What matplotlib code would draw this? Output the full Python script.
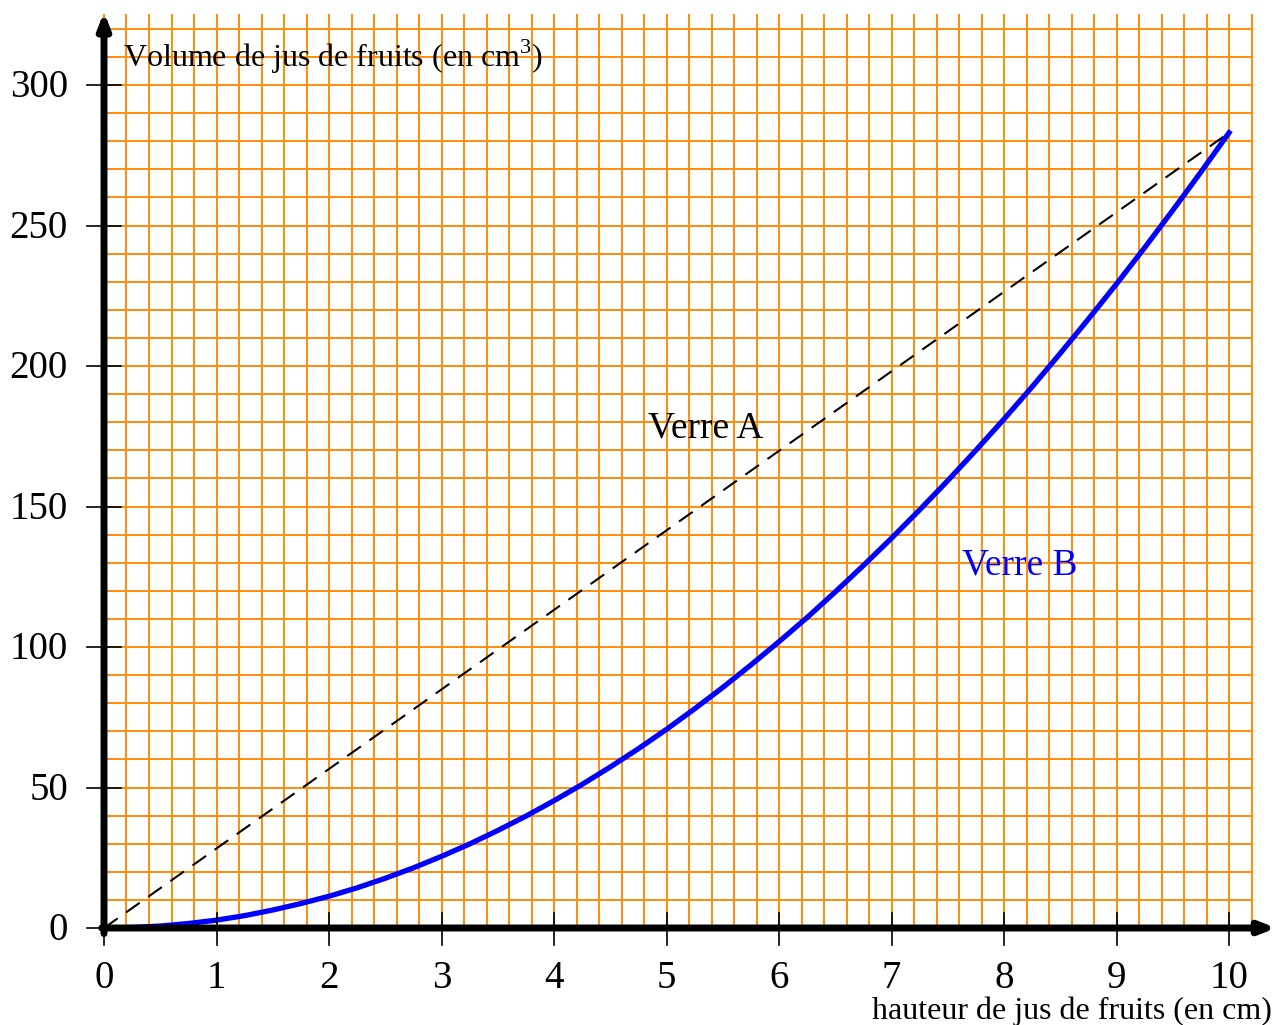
import matplotlib.pyplot as plt
import numpy as np

# hauteur (cm) -> volume (cm3)
h_A = [0, 10]
v_A = [0, 283]

h_B = [0, 0.25, 0.5, 0.75, 1, 1.25, 1.5, 1.75, 2, 2.25, 2.5, 2.75, 3, 3.25, 3.5, 3.75,
       4, 4.25, 4.5, 4.75, 5, 5.25, 5.5, 5.75, 6, 6.25, 6.5, 6.75, 7, 7.25, 7.5, 7.75,
       8, 8.25, 8.5, 8.75, 9, 9.25, 9.5, 9.75, 10]
v_B = [0, 0.2, 0.7, 1.6, 2.8, 4.4, 6.4, 8.7, 11.3, 14.3, 17.7, 21.4, 25.5, 29.9, 34.7, 39.8,
       45.3, 51.1, 57.3, 63.8, 70.7, 78.0, 85.6, 93.6, 101.9, 110.5, 119.6, 129.0, 138.7, 148.8, 159.2, 170.0,
       181.1, 192.6, 204.5, 216.7, 229.2, 242.1, 255.4, 269.0, 283]

x_ticks = [0, 1, 2, 3, 4, 5, 6, 7, 8, 9, 10]
y_ticks = [0, 50, 100, 150, 200, 250, 300]

plt.rcParams['font.family'] = ['Liberation Serif', 'DejaVu Serif']
plt.rcParams['mathtext.fontset'] = 'custom'
plt.rcParams['mathtext.rm'] = 'Liberation Serif'

fig = plt.figure(figsize=(12.77, 10.25), dpi=100)
ax = fig.add_axes([0, 0, 1, 1])
ax.set_xlim(-104 / 112.5, (1277 - 104) / 112.5)
ax.set_ylim(-(1025 - 928) / 2.81, 928 / 2.81)
ax.axis('off')

orange = '#ff8c0a'
# grid
for gx in np.arange(0, 10.21, 0.2):
    ax.plot([gx, gx], [0, 325], color=orange, lw=1.4, zorder=1)
for gy in np.arange(10, 321, 10):
    ax.plot([0, 10.2], [gy, gy], color=orange, lw=1.4, zorder=1)

# axes with arrows
ax.annotate('', xy=(10.42, 0), xytext=(-0.02, 0),
            arrowprops=dict(arrowstyle='-|>,head_length=0.9,head_width=0.35', lw=5, color='black',
                            shrinkA=0, shrinkB=0), zorder=5)
ax.annotate('', xy=(0, 326), xytext=(0, -2),
            arrowprops=dict(arrowstyle='-|>,head_length=0.9,head_width=0.35', lw=5, color='black',
                            shrinkA=0, shrinkB=0), zorder=5)

# ticks
for t in x_ticks:
    ax.plot([t, t], [-6, 5.5], color='black', lw=1.2, zorder=5)
    ax.text(t, -18, str(t), ha='center', va='center', fontsize=28)
for t in y_ticks:
    ax.plot([-0.15, 0.15], [t, t], color='black', lw=1.2, zorder=5)
    ax.text(-0.32, t - 1, str(t), ha='right', va='center', fontsize=28)

# curves
ax.plot(h_A, v_A, color='black', lw=1.5, dashes=(8, 5), zorder=4)
ax.plot(h_B, v_B, color='#0000ff', lw=3.8, zorder=4)

ax.text(4.84, 178, 'Verre A', ha='left', va='center', fontsize=27, color='black')
ax.text(7.63, 129, 'Verre B', ha='left', va='center', fontsize=27, color='#0000ff')

ax.text(0.17, 310, r'Volume de jus de fruits (en cm$^{\mathrm{3}}$)', ha='left', va='center', fontsize=23)
ax.text(10.38, -29.5, 'hauteur de jus de fruits (en cm)', ha='right', va='center', fontsize=23)

fig.savefig('out.png', dpi=100)
